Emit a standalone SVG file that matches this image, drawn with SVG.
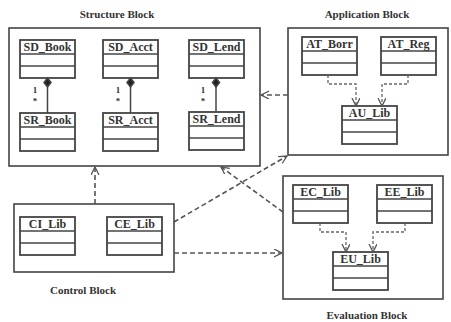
<svg xmlns="http://www.w3.org/2000/svg" width="451" height="322" viewBox="0 0 451 322">
<style>
.blk{fill:none;stroke:#444;stroke-width:1.6}
.bxr{fill:#fff;stroke:#444;stroke-width:1.8}
.bxl{stroke:#444;stroke-width:1.4}
.cls text{font-family:"Liberation Serif",serif;font-weight:bold;font-size:12px;fill:#333;text-anchor:middle}
.title{font-family:"Liberation Serif",serif;font-weight:bold;font-size:11px;fill:#333;text-anchor:middle}
.dash{fill:none;stroke:#555;stroke-width:1.6;stroke-dasharray:5,3}
.dot{fill:none;stroke:#666;stroke-width:1.3;stroke-dasharray:3,2}
.comp{stroke:#444;stroke-width:1.5}
.mult{font-family:"Liberation Serif",serif;font-weight:bold;font-size:9px;fill:#333;text-anchor:middle}
</style>
<defs>
<marker id="arr" markerWidth="10" markerHeight="10" refX="8" refY="4" orient="auto" markerUnits="userSpaceOnUse">
<path d="M0,0 L8,4 L0,8" fill="none" stroke="#555" stroke-width="1.3"/>
</marker>
<g id="box">
<rect class="bxr" x="0" y="0" width="55" height="38"/>
<line class="bxl" x1="0" y1="14" x2="55" y2="14"/>
<line class="bxl" x1="0" y1="26" x2="55" y2="26"/>
</g>
</defs>

<g id="structure-block">
<rect class="blk" x="9" y="28" width="251" height="138"/>
<text class="title" x="117" y="18">Structure Block</text>
</g>
<g id="application-block">
<rect class="blk" x="288" y="28" width="160" height="127"/>
<text class="title" x="367" y="18">Application Block</text>
</g>
<g id="control-block">
<rect class="blk" x="14" y="204" width="160" height="68"/>
<text class="title" x="83" y="294">Control Block</text>
</g>
<g id="evaluation-block">
<rect class="blk" x="283" y="176" width="160" height="123"/>
<text class="title" x="367" y="319">Evaluation Block</text>
</g>

<g id="SD_Book" class="cls" transform="translate(20,40)"><use href="#box"/><text x="27.5" y="11">SD_Book</text></g>
<g id="SD_Acct" class="cls" transform="translate(103,40)"><use href="#box"/><text x="27.5" y="11">SD_Acct</text></g>
<g id="SD_Lend" class="cls" transform="translate(189,40)"><use href="#box"/><text x="27.5" y="11">SD_Lend</text></g>
<g id="SR_Book" class="cls" transform="translate(20,113)"><use href="#box"/><text x="27.5" y="11">SR_Book</text></g>
<g id="SR_Acct" class="cls" transform="translate(103,113)"><use href="#box"/><text x="27.5" y="11">SR_Acct</text></g>
<g id="SR_Lend" class="cls" transform="translate(189,112)"><use href="#box"/><text x="27.5" y="11">SR_Lend</text></g>
<g id="AT_Borr" class="cls" transform="translate(302,37)"><use href="#box"/><text x="27.5" y="11">AT_Borr</text></g>
<g id="AT_Reg" class="cls" transform="translate(381,37)"><use href="#box"/><text x="27.5" y="11">AT_Reg</text></g>
<g id="AU_Lib" class="cls" transform="translate(342,106)"><use href="#box"/><text x="27.5" y="11">AU_Lib</text></g>
<g id="CI_Lib" class="cls" transform="translate(20,217)"><use href="#box"/><text x="27.5" y="11">CI_Lib</text></g>
<g id="CE_Lib" class="cls" transform="translate(107,217)"><use href="#box"/><text x="27.5" y="11">CE_Lib</text></g>
<g id="EC_Lib" class="cls" transform="translate(293,185)"><use href="#box"/><text x="27.5" y="11">EC_Lib</text></g>
<g id="EE_Lib" class="cls" transform="translate(377,185)"><use href="#box"/><text x="27.5" y="11">EE_Lib</text></g>
<g id="EU_Lib" class="cls" transform="translate(333,252)"><use href="#box"/><text x="27.5" y="11">EU_Lib</text></g>

<g id="connectors">
<g class="comp">
<line x1="47.5" y1="87" x2="47.5" y2="113"/>
<polygon points="47.5,78 51,82.5 47.5,87 44,82.5" fill="#222"/>
<line x1="130.5" y1="87" x2="130.5" y2="113"/>
<polygon points="130.5,78 134,82.5 130.5,87 127,82.5" fill="#222"/>
<line x1="216" y1="87" x2="216" y2="112"/>
<polygon points="216,78 219.5,82.5 216,87 212.5,82.5" fill="#222"/>
</g>
<text class="mult" x="35" y="93">1</text><text class="mult" x="35" y="104">*</text>
<text class="mult" x="118" y="93">1</text><text class="mult" x="118" y="104">*</text>
<text class="mult" x="203" y="93">1</text><text class="mult" x="203" y="104">*</text>

<line class="dash" x1="288" y1="95" x2="261" y2="95" marker-end="url(#arr)"/>
<line class="dash" x1="95" y1="204" x2="95" y2="167" marker-end="url(#arr)"/>
<line class="dash" x1="174" y1="222" x2="287" y2="156" marker-end="url(#arr)"/>
<line class="dash" x1="283" y1="212" x2="221" y2="167" marker-end="url(#arr)"/>
<line class="dash" x1="174" y1="253" x2="282" y2="253" marker-end="url(#arr)"/>

<polyline class="dot" points="328,75 328,84 356,84 356,106" marker-end="url(#arr)"/>
<polyline class="dot" points="408,75 408,84 382,84 382,106" marker-end="url(#arr)"/>
<polyline class="dot" points="320,223 320,232 346,232 346,252" marker-end="url(#arr)"/>
<polyline class="dot" points="405,223 405,232 373,232 373,252" marker-end="url(#arr)"/>
</g>
</svg>
